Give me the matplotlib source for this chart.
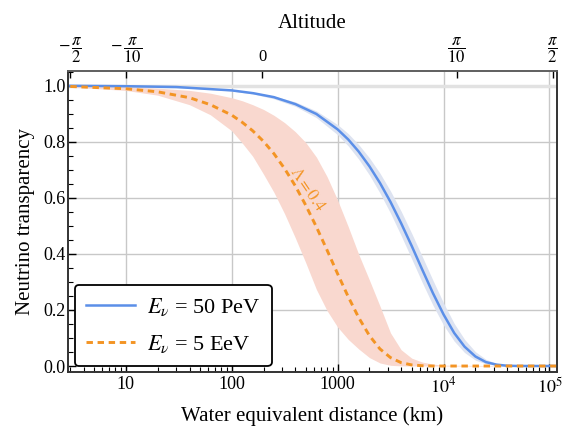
import numpy as np
import matplotlib
matplotlib.use('Agg')
import matplotlib.pyplot as plt
from matplotlib.ticker import MultipleLocator, LogLocator, NullLocator, FixedLocator, FixedFormatter

plt.rcParams['font.family'] = ['Liberation Serif', 'DejaVu Serif']
plt.rcParams['mathtext.fontset'] = 'stix'

# 50 PeV (blue)
d_blue = [3, 10, 30, 100, 160, 250, 400, 630, 1000, 1260, 1580, 2000, 2510, 3160, 3980,
          5010, 6310, 7940, 10000, 12600, 15800, 20000, 25100, 31600, 39800, 50100, 120000]
t_blue = [0.9995, 0.998, 0.995, 0.983, 0.973, 0.959, 0.934, 0.899, 0.844, 0.808, 0.765, 0.712,
          0.653, 0.585, 0.509, 0.428, 0.343, 0.260, 0.184, 0.118, 0.069, 0.034, 0.014, 0.005,
          0.001, 0.0002, 0.0]
t_blue_hi = [1.0, 0.9985, 0.9955, 0.985, 0.976, 0.963, 0.942, 0.910, 0.861, 0.829, 0.790, 0.742,
             0.688, 0.624, 0.552, 0.473, 0.390, 0.306, 0.225, 0.152, 0.095, 0.051, 0.024, 0.009,
             0.003, 0.0006, 0.0]
t_blue_lo = [0.9994, 0.998, 0.994, 0.981, 0.970, 0.953, 0.926, 0.886, 0.825, 0.785, 0.738, 0.681,
             0.617, 0.545, 0.465, 0.382, 0.297, 0.217, 0.146, 0.089, 0.048, 0.021, 0.008, 0.002,
             0.0005, 0.0, 0.0]

# 5 EeV (orange)
d_orng = [3, 10, 20, 40, 63, 100, 126, 158, 200, 251, 316, 398, 501, 631, 794, 1000, 1260,
          1580, 2000, 2510, 3160, 3980, 5010, 6310, 7940, 10000, 120000]
t_orng = [0.997, 0.989, 0.978, 0.957, 0.932, 0.895, 0.869, 0.839, 0.801, 0.757, 0.704, 0.643,
          0.573, 0.496, 0.414, 0.329, 0.247, 0.173, 0.108, 0.061, 0.030, 0.012, 0.004, 0.001,
          0.0, 0.0, 0.0]
t_orng_hi = [0.9987, 0.9956, 0.991, 0.983, 0.973, 0.957, 0.946, 0.932, 0.915, 0.894, 0.868, 0.836,
             0.797, 0.745, 0.676, 0.592, 0.497, 0.399, 0.306, 0.214, 0.118, 0.058, 0.028, 0.014,
             0.007, 0.003, 0.0]
t_orng_lo = [0.995, 0.983, 0.966, 0.932, 0.896, 0.839, 0.795, 0.748, 0.684, 0.619, 0.543, 0.458,
             0.368, 0.273, 0.198, 0.139, 0.095, 0.061, 0.030, 0.011, 0.0025, 0.0005, 0.0, 0.0,
             0.0, 0.0, 0.0]

alt_pos = [3.0, 10, 194, 13300, 107000]
alt_labels = [r'$-\,\dfrac{\pi}{2}$', r'$-\,\dfrac{\pi}{10}$', '0', r'$\dfrac{\pi}{10}$', r'$\dfrac{\pi}{2}$']

blue = '#5b8fe8'
orange = '#f39424'

fig = plt.figure(figsize=(5.63, 4.32), dpi=100)
ax = fig.add_axes([0.1213, 0.1400, 0.8675, 0.6965])

ax.fill_between(d_orng, t_orng_lo, t_orng_hi, color='#f9d8cf', lw=0, zorder=1)
ax.fill_between(d_blue, t_blue_lo, t_blue_hi, color='#dde3f1', lw=0, zorder=1)
ax.plot(d_blue, t_blue, color=blue, lw=1.8, zorder=3, label=r'$E_\nu$ = 50 PeV')
ax.plot(d_orng, t_orng, color=orange, lw=2.1, ls=(0, (2.2, 1.6)), zorder=3, label=r'$E_\nu$ = 5 EeV')

ax.text(520, 0.628, r'$\Lambda = 0.4$', color=orange, fontsize=12, rotation=-56,
        ha='center', va='center', rotation_mode='anchor', zorder=4)

ax.set_xscale('log')
ax.set_xlim(2.87, 1.17e5)
ax.set_ylim(-0.0196, 1.0535)

ax.set_xticks([10, 100, 1000, 1e4, 1e5])
ax.set_xticklabels(['10', '100', '1000', r'$10^4$', r'$10^5$'])
ax.xaxis.set_minor_locator(LogLocator(base=10, subs=np.arange(2, 10)))
ax.xaxis.set_minor_formatter(plt.NullFormatter())
ax.yaxis.set_major_locator(MultipleLocator(0.2))
ax.yaxis.set_minor_locator(MultipleLocator(0.05))
ax.set_yticks([0, 0.2, 0.4, 0.6, 0.8, 1.0])
ax.set_yticklabels(['0.0', '0.2', '0.4', '0.6', '0.8', '1.0'])

ax.tick_params(which='both', direction='in', top=False, right=False, labelsize=13)
ax.tick_params(which='major', length=6, width=1)
ax.tick_params(which='minor', length=3.5, width=0.8)
ax.tick_params(axis='y', pad=2)

for v in [10, 100, 1000, 1e4, 1e5]:
    ax.axvline(v, color='#c8c8c8', lw=1, zorder=0)
for v in [0.2, 0.4, 0.6, 0.8]:
    ax.axhline(v, color='#c8c8c8', lw=1, zorder=0)
ax.axhline(1.0, color='#e2e2e2', lw=2.5, zorder=0)

for s in ax.spines.values():
    s.set_color('#333333')
    s.set_linewidth(1.2)

ax.set_xlabel('Water equivalent distance (km)', fontsize=15, labelpad=7)
ax.set_ylabel('Neutrino transparency', fontsize=15, labelpad=6)

leg = ax.legend(loc='lower left', fontsize=16, frameon=True, fancybox=True,
                handlelength=2.2, handletextpad=0.55, borderpad=0.5, labelspacing=0.7,
                borderaxespad=0.3, bbox_to_anchor=(0.0, -0.005))
leg.get_frame().set_edgecolor('black')
leg.get_frame().set_linewidth(1.3)
leg.get_frame().set_alpha(1)

top = ax.twiny()
top.set_xscale('log')
top.set_xlim(ax.get_xlim())
top.xaxis.set_major_locator(FixedLocator(alt_pos))
top.xaxis.set_major_formatter(FixedFormatter(alt_labels))
top.xaxis.set_minor_locator(NullLocator())
top.tick_params(direction='in', length=5, width=1, labelsize=12, pad=4)
top.set_xlabel('Altitude', fontsize=15, labelpad=6)
for s in top.spines.values():
    s.set_color('#333333')
    s.set_linewidth(1.2)
top.spines['top'].set_color('#666666')

fig.savefig('out.png', dpi=100)
